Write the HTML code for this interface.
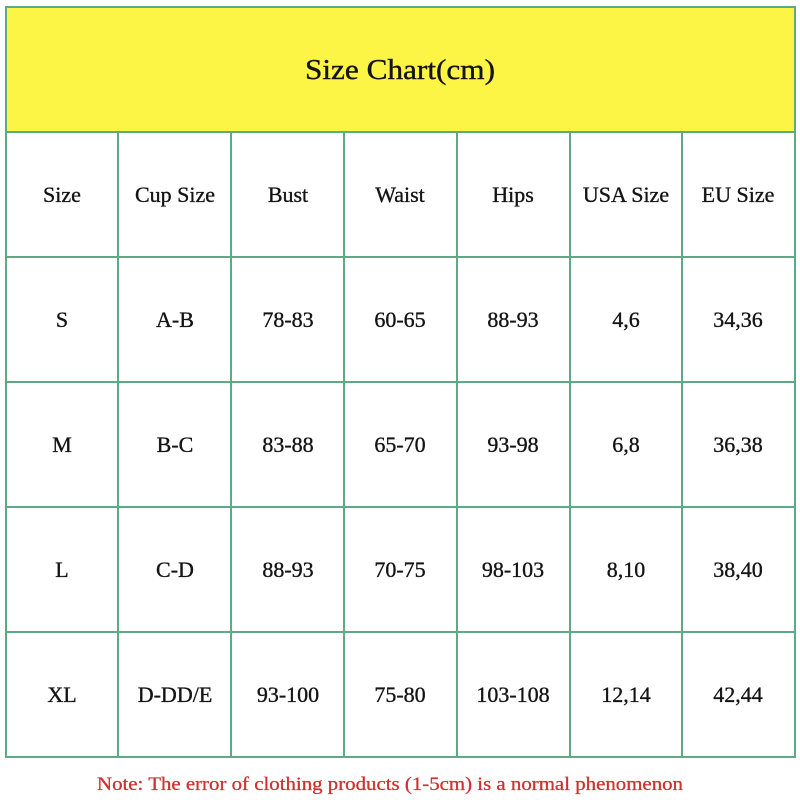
<!DOCTYPE html>
<html>
<head>
<meta charset="utf-8">
<style>
html,body{margin:0;padding:0;background:#fff;}
svg{display:block;}
text{font-family:"Liberation Serif","Times New Roman",serif;}
</style>
</head>
<body>
<svg width="800" height="800" viewBox="0 0 800 800" xmlns="http://www.w3.org/2000/svg">
<rect x="0" y="0" width="800" height="800" fill="#ffffff"/>
<rect x="6" y="7" width="789" height="125" fill="#fdf545"/>
<g stroke="#5eaa84" stroke-width="2" fill="none">
<rect x="6" y="7" width="789" height="750"/>
<line x1="6" y1="132" x2="795" y2="132"/>
<line x1="6" y1="257" x2="795" y2="257"/>
<line x1="6" y1="382" x2="795" y2="382"/>
<line x1="6" y1="507" x2="795" y2="507"/>
<line x1="6" y1="632" x2="795" y2="632"/>
<line x1="118" y1="132" x2="118" y2="757"/>
<line x1="231" y1="132" x2="231" y2="757"/>
<line x1="344" y1="132" x2="344" y2="757"/>
<line x1="457" y1="132" x2="457" y2="757"/>
<line x1="570" y1="132" x2="570" y2="757"/>
<line x1="682" y1="132" x2="682" y2="757"/>
</g>
<text x="400" y="79" font-size="29" text-anchor="middle" fill="#141414" stroke="#141414" stroke-width="0.4" textLength="190" lengthAdjust="spacingAndGlyphs">Size Chart(cm)</text>
<g font-size="22" text-anchor="middle" fill="#141414" stroke="#141414" stroke-width="0.35">
<text x="62" y="202">Size</text>
<text x="175" y="202">Cup Size</text>
<text x="288" y="202">Bust</text>
<text x="400" y="202">Waist</text>
<text x="513" y="202">Hips</text>
<text x="626" y="202">USA Size</text>
<text x="738" y="202">EU Size</text>

<text x="62" y="327">S</text>
<text x="175" y="327">A-B</text>
<text x="288" y="327">78-83</text>
<text x="400" y="327">60-65</text>
<text x="513" y="327">88-93</text>
<text x="626" y="327">4,6</text>
<text x="738" y="327">34,36</text>

<text x="62" y="452">M</text>
<text x="175" y="452">B-C</text>
<text x="288" y="452">83-88</text>
<text x="400" y="452">65-70</text>
<text x="513" y="452">93-98</text>
<text x="626" y="452">6,8</text>
<text x="738" y="452">36,38</text>

<text x="62" y="577">L</text>
<text x="175" y="577">C-D</text>
<text x="288" y="577">88-93</text>
<text x="400" y="577">70-75</text>
<text x="513" y="577">98-103</text>
<text x="626" y="577">8,10</text>
<text x="738" y="577">38,40</text>

<text x="62" y="702">XL</text>
<text x="175" y="702">D-DD/E</text>
<text x="288" y="702">93-100</text>
<text x="400" y="702">75-80</text>
<text x="513" y="702">103-108</text>
<text x="626" y="702">12,14</text>
<text x="738" y="702">42,44</text>
</g>
<text x="390" y="790" font-size="19" text-anchor="middle" fill="#cf3030" stroke="#cf3030" stroke-width="0.3" textLength="586" lengthAdjust="spacingAndGlyphs">Note: The error of clothing products (1-5cm) is a normal phenomenon</text>
</svg>
</body>
</html>
